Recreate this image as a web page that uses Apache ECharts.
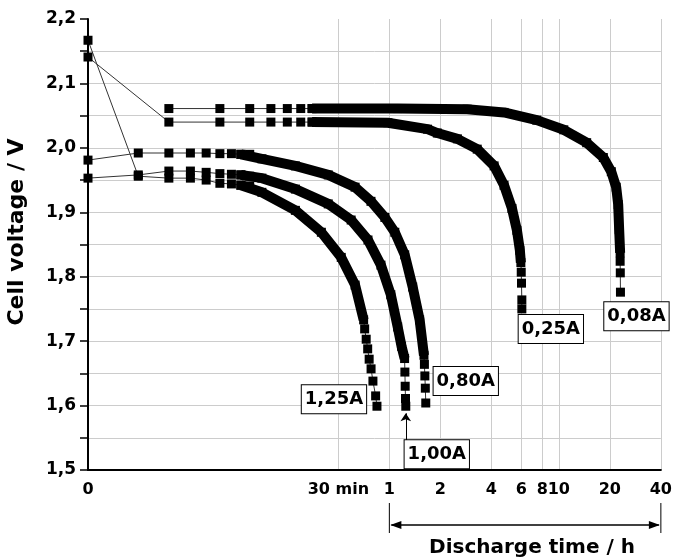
<!DOCTYPE html>
<html>
<head>
<meta charset="utf-8">
<script src="https://cdn.jsdelivr.net/npm/echarts@6/dist/echarts.min.js"></script>
<style>
    html, body { margin: 0; padding: 0; background: #fff; }
    #chart { width: 675px; height: 558px; }
</style>
</head>
<body>
<div id="chart"></div>
<script>
// time axis in hours, log scale; its start (1 min) is labelled "0"
const T0 = 1 / 60;

const xTickValues = [0.5, 1, 2, 4, 6, 8, 10, 20, 40];
const xLabelValues = [0.01667, 0.5, 1, 2, 4, 6, 8, 10, 20, 40];
const xLabelTexts = ['0', '30 min', '1', '2', '4', '6', '8', '10', '20', '40'];

const yTickValues = [1.5, 1.55, 1.6, 1.65, 1.7, 1.75, 1.8, 1.85, 1.9, 1.95, 2.0, 2.05, 2.1, 2.15, 2.2];
const yLabelValues = [1.5, 1.6, 1.7, 1.8, 1.9, 2.0, 2.1, 2.2];
const yLabelTexts = ['1,5', '1,6', '1,7', '1,8', '1,9', '2,0', '2,1', '2,2'];

// 0,08A
const start08 = [];
const early08 = [[0.05, 2.061], [0.10, 2.061], [0.15, 2.061], [0.20, 2.061], [0.25, 2.061], [0.30, 2.061], [0.35, 2.061]];
const band08 = [[0.35, 2.061], [1.12, 2.061], [2.88, 2.060], [4.75, 2.055], [7.41, 2.043], [10.7, 2.028], [14.6, 2.008],
    [18.3, 1.985], [20.4, 1.963], [21.8, 1.939], [22.4, 1.912], [22.7, 1.873], [23.0, 1.837]];
const tail08 = [[23.0, 1.824], [23.05, 1.806], [23.1, 1.776]];

// 0,25A
const start25 = [[T0, 2.141]];
const early25 = [[0.05, 2.040], [0.10, 2.040], [0.15, 2.040], [0.20, 2.040], [0.25, 2.040], [0.30, 2.040], [0.35, 2.040]];
const band25 = [[0.35, 2.040], [0.98, 2.039], [1.68, 2.029], [1.92, 2.023], [2.52, 2.014], [3.30, 1.998], [4.15, 1.972],
    [4.75, 1.942], [5.29, 1.906], [5.66, 1.872], [5.89, 1.841], [5.97, 1.822]];
const tail25 = [[6.0, 1.807], [6.02, 1.790], [6.05, 1.764], [6.05, 1.750]];

// 0,80A
const start80 = [[T0, 1.981]];
const early80 = [[0.033, 1.992], [0.05, 1.992], [0.067, 1.992], [0.083, 1.992], [0.10, 1.991], [0.117, 1.991], [0.133, 1.990], [0.15, 1.990]];
const band80 = [[0.133, 1.990], [0.177, 1.983], [0.279, 1.972], [0.436, 1.958], [0.628, 1.939], [0.779, 1.917], [0.941, 1.892],
    [1.077, 1.869], [1.232, 1.834], [1.373, 1.784], [1.509, 1.733], [1.60, 1.678]];
const tail80 = [[1.61, 1.664], [1.62, 1.646], [1.63, 1.627], [1.64, 1.604]];

// 1,00A
const start100 = [[T0, 1.953]];
const early100 = [[0.033, 1.958], [0.05, 1.964], [0.067, 1.964], [0.083, 1.962], [0.10, 1.960], [0.117, 1.959], [0.133, 1.958], [0.15, 1.956]];
const band100 = [[0.133, 1.958], [0.177, 1.953], [0.279, 1.936], [0.436, 1.913], [0.595, 1.888], [0.748, 1.857], [0.892, 1.818],
    [1.02, 1.772], [1.12, 1.722], [1.18, 1.692], [1.23, 1.673]];
const tail100 = [[1.235, 1.652], [1.24, 1.630], [1.245, 1.611], [1.25, 1.599]];

// 1,25A
const start125 = [[T0, 2.167]];
const early125 = [[0.033, 1.956], [0.05, 1.953], [0.067, 1.953], [0.083, 1.950], [0.10, 1.945], [0.117, 1.944], [0.133, 1.942], [0.15, 1.941]];
const band125 = [[0.133, 1.942], [0.177, 1.931], [0.279, 1.903], [0.397, 1.869], [0.520, 1.830], [0.628, 1.787], [0.705, 1.733]];
const tail125 = [[0.715, 1.719], [0.73, 1.703], [0.745, 1.688], [0.76, 1.672], [0.78, 1.657], [0.80, 1.638], [0.83, 1.615], [0.845, 1.599]];

const curves = [
    { name: '0,08A', start: start08, early: early08, band: band08, tail: tail08, labelOffset: [16, 24] },
    { name: '0,25A', start: start25, early: early25, band: band25, tail: tail25, labelOffset: [29, 20] },
    { name: '0,80A', start: start80, early: early80, band: band80, tail: tail80, labelOffset: [40, -22] },
    { name: '1,00A', start: start100, early: early100, band: band100, tail: tail100, labelOffset: [31, 48] },
    { name: '1,25A', start: start125, early: early125, band: band125, tail: tail125, labelOffset: [-43, -7] }
];

const FONT = 'DejaVu Sans';

function pickLabel(values, texts, v) {
    for (let i = 0; i < values.length; i++) {
        if (Math.abs(values[i] - v) / values[i] < 1e-3) return texts[i];
    }
    return '';
}

let series = [];
curves.forEach(c => {
    const all = [...c.start, ...c.early, ...c.band, ...c.tail];
    const last = c.tail[c.tail.length - 1];
    let s = {
        type: 'line',
        name: c.name,
        data: all,
        symbol: 'rect',
        symbolSize: 9,
        clip: false,
        z: 3,
        itemStyle: { color: '#000', borderWidth: 0 },
        lineStyle: { color: '#333', width: 1 },
        emphasis: { disabled: true },
        markPoint: {
            silent: true,
            symbol: 'rect',
            symbolSize: 1,
            itemStyle: { color: 'rgba(0,0,0,0)' },
            label: {
                show: true,
                position: 'inside',
                offset: c.labelOffset,
                formatter: c.name,
                color: '#000',
                fontFamily: FONT,
                fontWeight: 'bold',
                fontSize: 18,
                lineHeight: 20,
                backgroundColor: '#fff',
                borderColor: '#000',
                borderWidth: 1,
                padding: [5, 3, 3, 3]
            },
            data: [{ coord: last }]
        }
    };
    // small arrow pointing at the end of the 1,00A curve
    if (c.name === '1,00A') {
        s.markLine = {
            silent: true,
            symbol: ['none', 'arrow'],
            symbolSize: 8,
            label: { show: false },
            lineStyle: { color: '#000', width: 1, type: 'solid' },
            data: [[{ coord: [1.25, 1.541] }, { coord: [1.25, 1.588] }]]
        };
    }
    series.push(s);
    // dense 1-min / 3-min samples merge into a solid band
    series.push({
        type: 'line',
        name: c.name + ' band',
        data: c.band,
        symbol: 'none',
        z: 4,
        emphasis: { disabled: true },
        itemStyle: { color: '#000' },
        lineStyle: { color: '#000', width: 10, cap: 'butt', join: 'round', opacity: 1 }
    });
});

let chart = echarts.init(document.getElementById('chart'));

let option = {
    animation: false,
    textStyle: { fontFamily: FONT },
    grid: { left: 88, right: 10, top: 19, bottom: 88 },
    xAxis: {
        type: 'log',
        logBase: 10,
        min: T0,
        max: 40,
        axisLine: { onZero: false, lineStyle: { color: '#000', width: 2 } },
        axisTick: { show: false, customValues: xTickValues },
        axisLabel: {
            customValues: xLabelValues,
            formatter: v => pickLabel(xLabelValues, xLabelTexts, v),
            color: '#000',
            fontFamily: FONT,
            fontWeight: 'bold',
            fontSize: 16,
            margin: 12
        },
        splitLine: { show: true, lineStyle: { color: '#cccccc', width: 1 } }
    },
    yAxis: {
        type: 'value',
        min: 1.5,
        max: 2.2,
        axisLine: { show: true, onZero: false, lineStyle: { color: '#000', width: 2 } },
        axisTick: { show: true, length: 8, customValues: yTickValues, lineStyle: { color: '#000', width: 1.5 } },
        axisLabel: {
            customValues: yLabelValues,
            formatter: v => pickLabel(yLabelValues, yLabelTexts, v),
            color: '#000',
            fontFamily: FONT,
            fontWeight: 'bold',
            fontSize: 17,
            margin: 12
        },
        splitLine: { show: true, showMaxLine: false, lineStyle: { color: '#cccccc', width: 1 } }
    },
    series: series
};

chart.setOption(option);

// "Discharge time / h" bracket under the axis, from 1 h to 40 h
const xa = chart.convertToPixel({ xAxisIndex: 0 }, 1);
const xb = chart.convertToPixel({ xAxisIndex: 0 }, 40);
const yBottom = chart.convertToPixel({ yAxisIndex: 0 }, 1.5);
const yArrow = yBottom + 55;

chart.setOption({
    graphic: [
        { type: 'line', shape: { x1: xa, y1: yBottom + 33, x2: xa, y2: yBottom + 63 }, style: { stroke: '#000', lineWidth: 1 } },
        { type: 'line', shape: { x1: xb, y1: yBottom + 33, x2: xb, y2: yBottom + 63 }, style: { stroke: '#000', lineWidth: 1 } },
        { type: 'line', shape: { x1: xa + 2, y1: yArrow, x2: xb - 2, y2: yArrow }, style: { stroke: '#000', lineWidth: 1.5 } },
        { type: 'polygon', shape: { points: [[xa + 1, yArrow], [xa + 12, yArrow - 4], [xa + 12, yArrow + 4]] }, style: { fill: '#000' } },
        { type: 'polygon', shape: { points: [[xb - 1, yArrow], [xb - 12, yArrow - 4], [xb - 12, yArrow + 4]] }, style: { fill: '#000' } },
        {
            type: 'text', x: 532, y: 548,
            style: { text: 'Discharge time / h', font: 'bold 20px "DejaVu Sans"', fill: '#000', textAlign: 'center', textVerticalAlign: 'middle' }
        },
        {
            type: 'text', x: 17, y: 232, rotation: Math.PI / 2,
            style: { text: 'Cell voltage / V', font: 'bold 22px "DejaVu Sans"', fill: '#000', textAlign: 'center', textVerticalAlign: 'middle' }
        }
    ]
});
</script>
</body>
</html>
